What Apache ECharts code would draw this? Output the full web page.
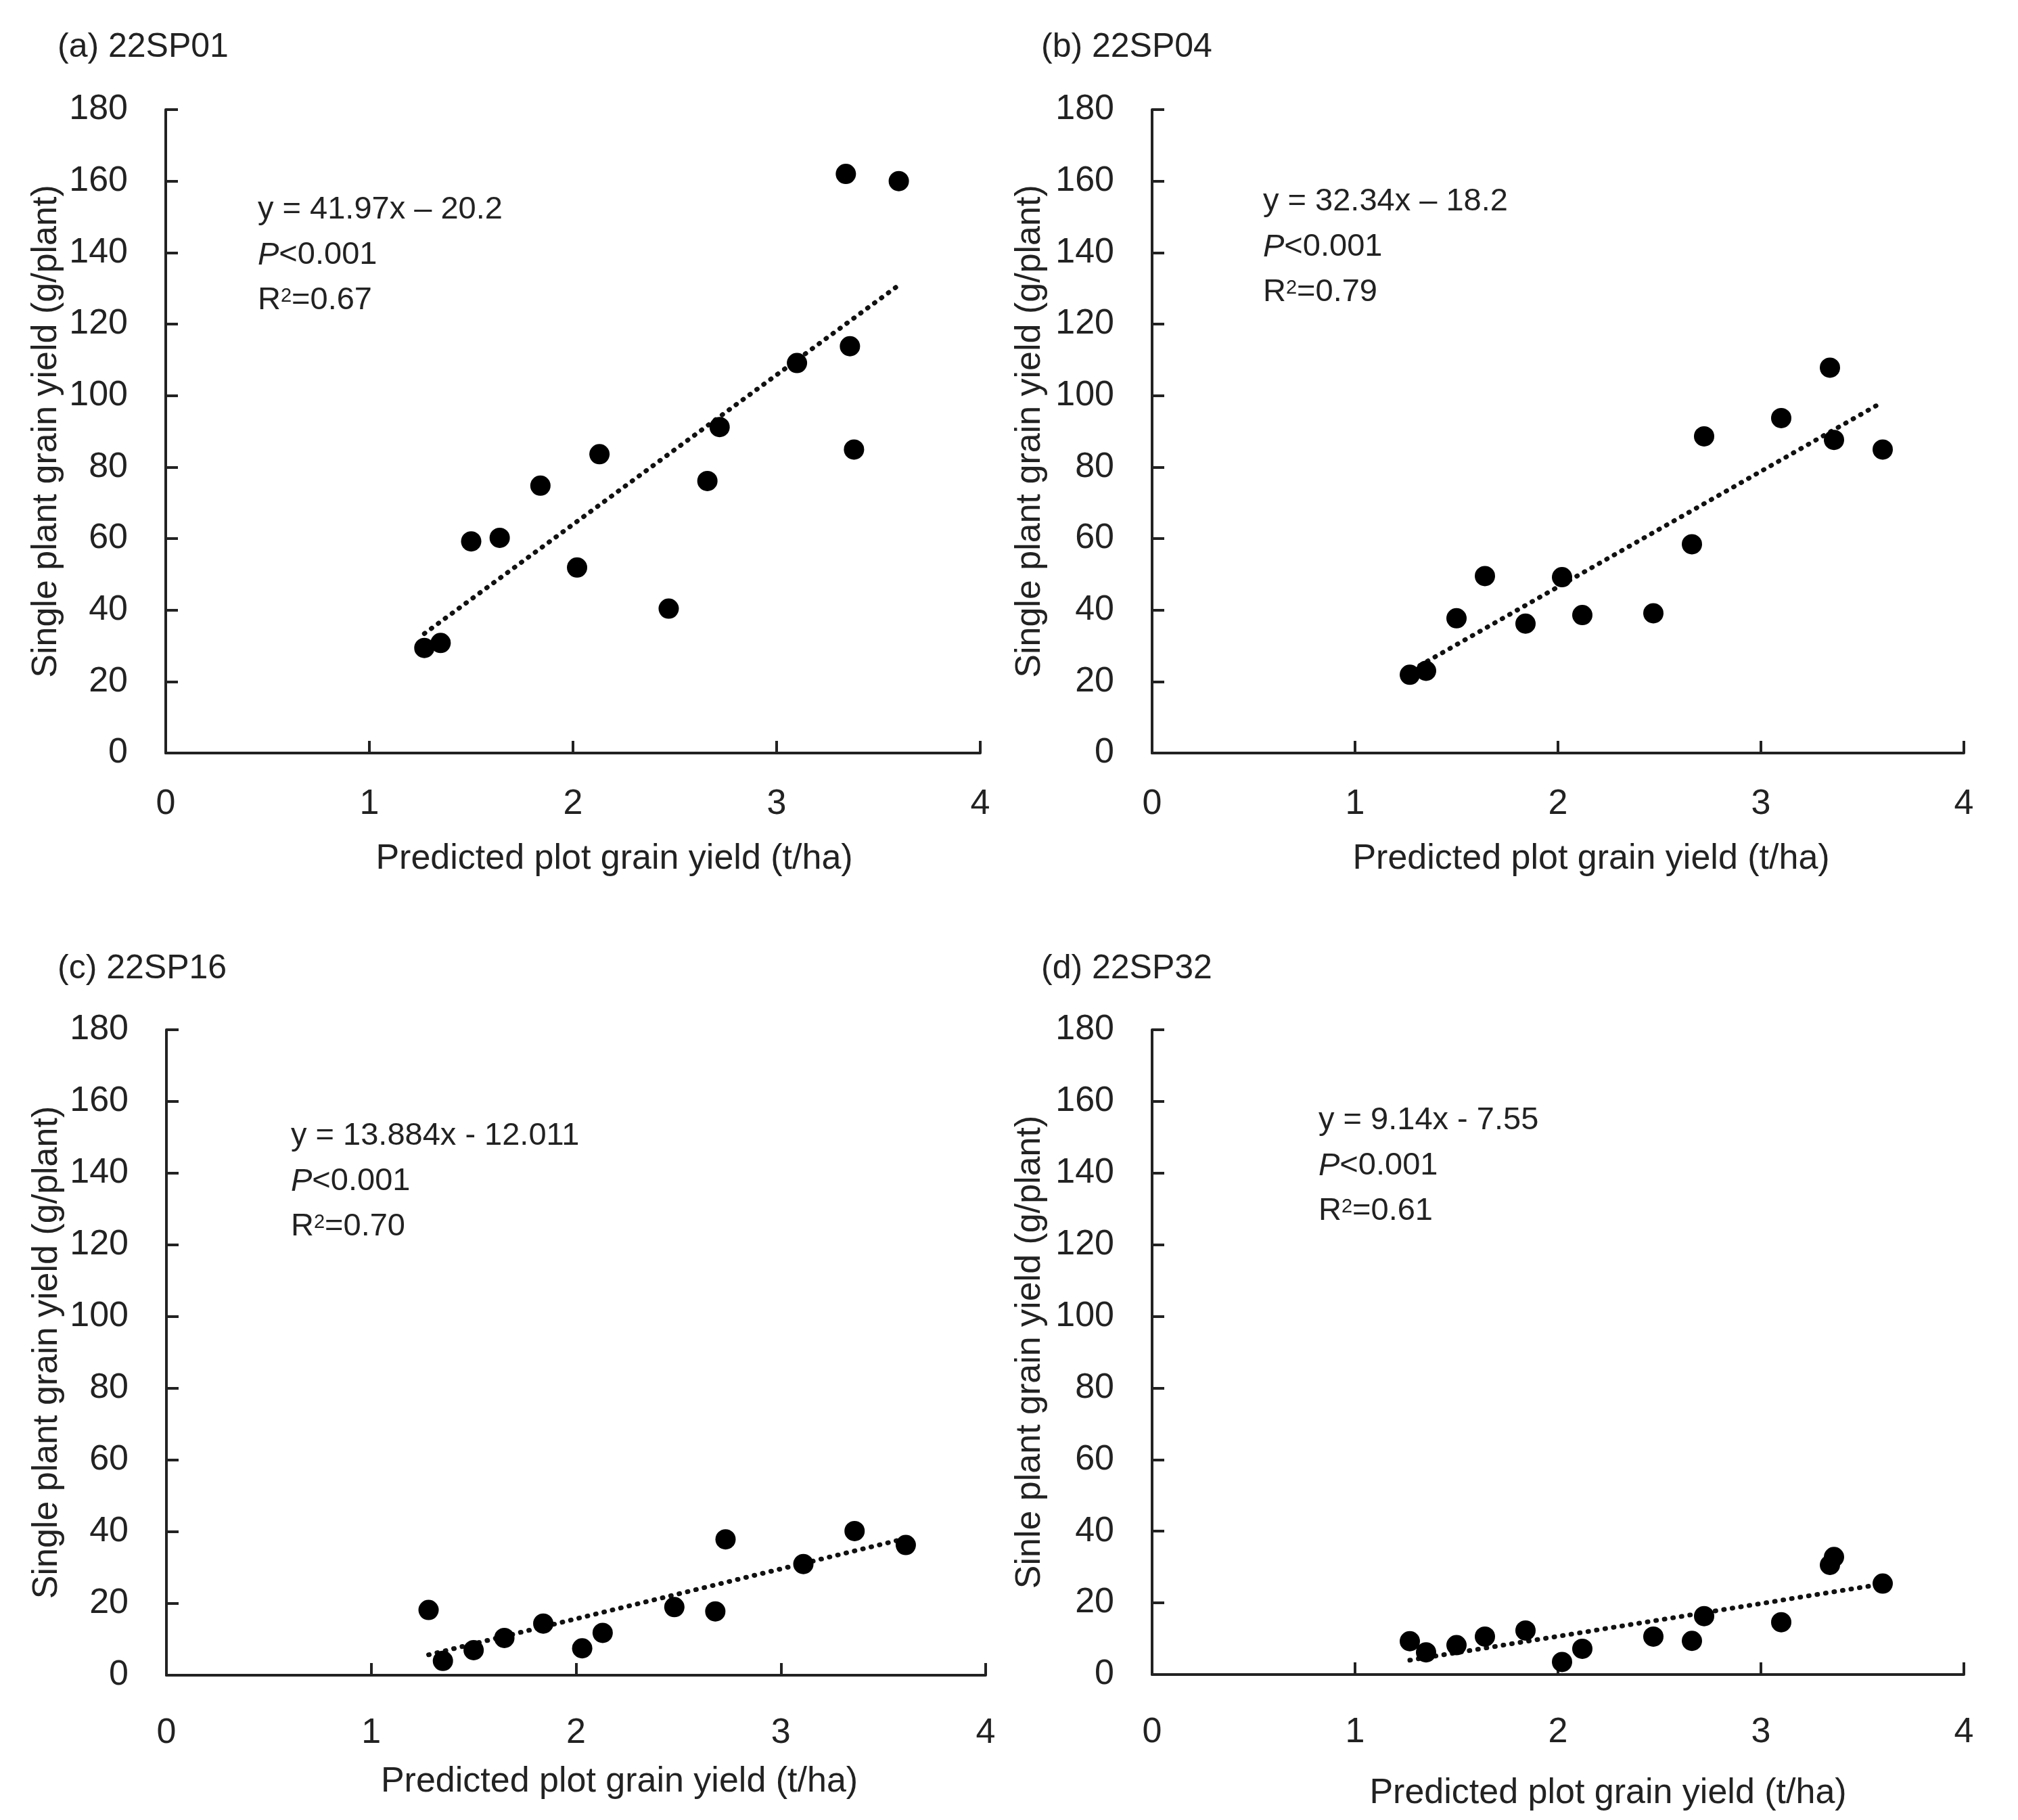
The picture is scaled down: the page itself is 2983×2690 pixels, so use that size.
<!DOCTYPE html>
<html>
<head>
<meta charset="utf-8">
<script src="https://cdn.jsdelivr.net/npm/echarts@6/dist/echarts.min.js"></script>
<style>
  html, body { margin: 0; padding: 0; background: #fff; }
  #main { width: 2983px; height: 2690px; }
</style>
</head>
<body>
<div id="main"></div>
<script>
// points: [predicted plot yield, single plant yield]
const pointsA = [[1.27,29.4],[1.35,30.8],[1.50,59.2],[1.64,60.2],[1.84,74.8],[2.02,51.9],[2.13,83.6],[2.47,40.4],
  [2.66,76.1],[2.72,91.2],[3.10,109.1],[3.34,162.0],[3.36,113.8],[3.38,84.9],[3.60,160.0]];
const pointsB = [[1.27,21.9],[1.35,23.0],[1.50,37.7],[1.64,49.5],[1.84,36.2],[2.02,49.2],[2.12,38.6],[2.47,39.1],
  [2.66,58.4],[2.72,88.6],[3.10,93.7],[3.34,107.8],[3.36,87.6],[3.60,84.9]];
const pointsC = [[1.28,18.2],[1.35,4.0],[1.50,7.0],[1.65,10.4],[1.84,14.4],[2.03,7.5],[2.13,11.8],[2.48,19.0],
  [2.68,17.8],[2.73,37.9],[3.11,31.0],[3.36,40.2],[3.61,36.3]];
const pointsD = [[1.27,9.3],[1.35,6.2],[1.50,8.2],[1.64,10.6],[1.84,12.3],[2.02,3.5],[2.12,7.2],[2.47,10.6],
  [2.66,9.4],[2.72,16.3],[3.10,14.6],[3.34,30.6],[3.36,32.8],[3.60,25.4]];

// trend line ends as drawn
const trendA = [[1.27,33.4],[3.60,130.9]];
const trendB = [[1.32,24.5],[3.60,98.2]];
const trendC = [[1.28,5.7],[3.60,38.0]];
const trendD = [[1.27,4.0],[3.60,25.3]];

const panelTitles = ['(a) 22SP01', '(b) 22SP04', '(c) 22SP16', '(d) 22SP32'];
const equations = ['y = 41.97x \u2013 20.2', 'y = 32.34x \u2013 18.2', 'y = 13.884x - 12.011', 'y = 9.14x - 7.55'];
const pValues = ['<0.001', '<0.001', '<0.001', '<0.001'];
const r2Values = ['=0.67', '=0.79', '=0.70', '=0.61'];
const yNames = ['Single plant grain yield (g/plant)', 'Single plant grain yield (g/plant)',
  'Single plant grain yield (g/plant)', 'Sinle plant grain yield (g/plant)'];
const xName = 'Predicted plot grain yield (t/ha)';

const points = [pointsA, pointsB, pointsC, pointsD];
const trends = [trendA, trendB, trendC, trendD];

const INK = '#222';
const FONT = 'Liberation Sans';

// layout of the four panels
const grids = [
  {left: 245, top: 162, width: 1204, height: 951},
  {left: 1703, top: 162, width: 1200, height: 951},
  {left: 246, top: 1522, width: 1211, height: 954},
  {left: 1703, top: 1522, width: 1200, height: 953}
];
const titlePos = [[85, 44], [1539, 44], [85, 1406], [1539, 1406]];
const notePos = [[381, 277], [1867, 265], [430, 1646], [1949, 1623]];
const xNameGap = [131, 131, 132, 150];
const xNameShift = [61, 49, 64, 74];
const yNameGap = [150, 154, 150, 154];

let myChart = echarts.init(document.getElementById('main'));

let titles = [];
for (let i = 0; i < 4; i++) {
  titles.push({
    text: panelTitles[i], left: titlePos[i][0], top: titlePos[i][1], padding: 0,
    textStyle: {fontFamily: FONT, fontSize: 50, fontWeight: 'normal', color: INK, lineHeight: 52}
  });
  titles.push({
    text: '{n|' + equations[i] + '}\n{i|P}{n|' + pValues[i] + '}\n{n|R}{s|2}{n|' + r2Values[i] + '}',
    left: notePos[i][0], top: notePos[i][1], padding: 0,
    textStyle: {
      fontWeight: 'normal',
      rich: {
        n: {fontFamily: FONT, fontSize: 47, fontWeight: 'normal', color: INK, lineHeight: 67},
        i: {fontFamily: FONT, fontSize: 47, fontWeight: 'normal', color: INK, lineHeight: 67, fontStyle: 'italic'},
        s: {fontFamily: FONT, fontSize: 29, fontWeight: 'normal', color: INK, lineHeight: 67,
            verticalAlign: 'top', padding: [12, 0, 0, 0]}
      }
    }
  });
}

let xAxes = [], yAxes = [], series = [];
for (let i = 0; i < 4; i++) {
  xAxes.push({
    type: 'value', gridIndex: i, min: 0, max: 4, interval: 1,
    name: xName, nameLocation: 'middle', nameGap: xNameGap[i],
    nameTextStyle: {fontFamily: FONT, fontSize: 52, color: INK, padding: [0, 0, 0, 2 * xNameShift[i]]},
    axisLine: {show: true, lineStyle: {color: INK, width: 4}},
    axisTick: {show: true, inside: true, length: 18, lineStyle: {color: INK, width: 4}},
    axisLabel: {fontFamily: FONT, fontSize: 52, color: INK, margin: i < 2 ? 50 : 60},
    splitLine: {show: false}
  });
  yAxes.push({
    type: 'value', gridIndex: i, min: 0, max: 180, interval: 20,
    name: yNames[i], nameLocation: 'middle', nameGap: yNameGap[i],
    nameTextStyle: {fontFamily: FONT, fontSize: 52, color: INK},
    axisLine: {show: true, lineStyle: {color: INK, width: 4}},
    axisTick: {show: true, inside: true, length: 18, lineStyle: {color: INK, width: 4}},
    axisLabel: {fontFamily: FONT, fontSize: 52, color: INK, margin: 56},
    splitLine: {show: false}
  });
  series.push({
    type: 'line', xAxisIndex: i, yAxisIndex: i, data: trends[i],
    symbol: 'none', silent: true, z: 1,
    lineStyle: {color: '#111', width: 7, type: [1, 11.7], cap: 'round'}
  });
  series.push({
    type: 'scatter', xAxisIndex: i, yAxisIndex: i, data: points[i],
    symbol: 'circle', symbolSize: 30, z: 2,
    itemStyle: {color: '#000', opacity: 1}
  });
}

let option = {
  backgroundColor: '#fff',
  animation: false,
  title: titles,
  grid: grids,
  xAxis: xAxes,
  yAxis: yAxes,
  series: series
};
myChart.setOption(option);
</script>
</body>
</html>
